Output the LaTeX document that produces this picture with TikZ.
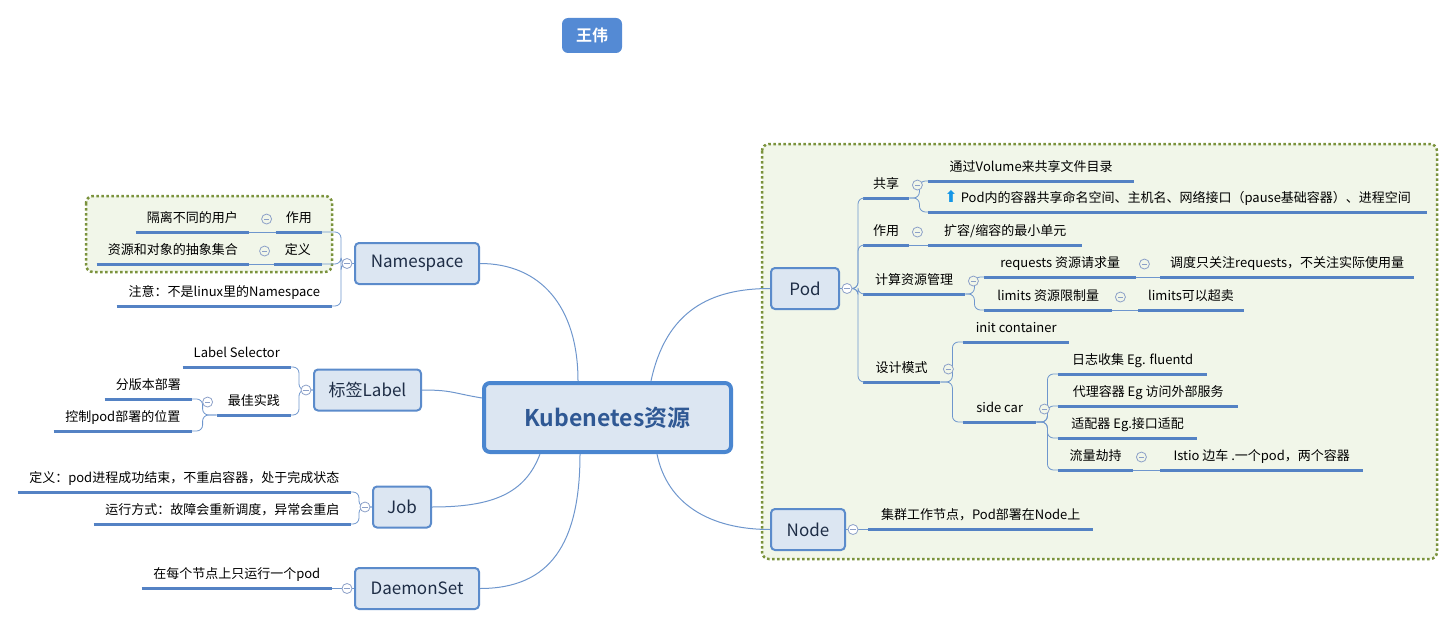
\documentclass[tikz,border=0pt]{standalone}
\usepackage{fontspec}
\setmainfont{Noto Sans CJK SC}[BoldFont={Noto Sans CJK SC Bold}]
\newfontfamily\symfont{DejaVu Sans}
\definecolor{topicfill}{RGB}{220,230,242}
\definecolor{topicline}{RGB}{91,139,203}
\definecolor{topictext}{RGB}{30,45,70}
\definecolor{rootline}{RGB}{74,134,208}
\definecolor{roottext}{RGB}{47,88,148}
\definecolor{titlefill}{RGB}{84,138,212}
\definecolor{ulinec}{RGB}{84,130,196}
\definecolor{branchc}{RGB}{110,150,205}
\definecolor{foldc}{RGB}{140,160,200}
\definecolor{areafill}{RGB}{241,246,233}
\definecolor{arealine}{RGB}{122,146,60}
\definecolor{iconc}{RGB}{20,150,230}
\tikzset{
  root/.style={draw=rootline, line width=4pt, fill=topicfill, rounded corners=6pt,
    minimum width=247pt, minimum height=69pt, text=roottext,
    font=\fontsize{23}{26}\selectfont\bfseries},
  title/.style={fill=titlefill, rounded corners=6pt, minimum width=60pt, minimum height=35pt,
    text=white, font=\fontsize{16}{18}\selectfont\bfseries},
  topic/.style={draw=topicline, line width=2pt, fill=topicfill, rounded corners=4pt,
    minimum height=41pt, text=topictext, font=\fontsize{17}{20}\selectfont},
  sub/.style={inner xsep=10pt, inner ysep=6pt, text height=10pt, text depth=3.5pt,
    font=\fontsize{13}{15}\selectfont},
  subl/.style={sub, anchor=south east},
  subr/.style={sub, anchor=south west},
  uline/.style={ulinec, line width=3pt},
  branch/.style={branchc, line width=0.8pt, rounded corners=6pt},
  link/.style={branchc, line width=1pt},
  fold/.style={circle, draw=foldc, line width=0.8pt, fill=white, minimum size=10pt, inner sep=0pt,
    path picture={\draw[foldc, line width=0.8pt]
      ([xshift=-2.6pt]path picture bounding box.center) -- ([xshift=2.6pt]path picture bounding box.center);}},
  area/.style={draw=arealine, fill=areafill, line width=2.5pt, dash pattern=on 2.5pt off 2.5pt,
    rounded corners=7pt}
}
\begin{document}
\begin{tikzpicture}[x=1pt,y=-1pt]
  \useasboundingbox (0,0) rectangle (1453,626);
  % boundaries
  \draw[area] (86,196) rectangle (332,272);
  \draw[area] (762,144) rectangle (1437,559);

  \node[title] (author) at (592,35.5) {王伟};
  \node[root] (kube) at (607.5,417.5) {Kubenetes资源};

  % main topics
  \node[topic, minimum width=124pt] (ns) at (417,263.5) {Namespace};
  \node[topic, minimum width=107pt] (lbl) at (367.5,390) {标签Label};
  \node[topic, minimum width=58pt] (job) at (402,507) {Job};
  \node[topic, minimum width=124pt] (ds) at (417,588.5) {DaemonSet};
  \node[topic, minimum width=68pt] (pod) at (805,288.5) {Pod};
  \node[topic, minimum width=74pt] (knode) at (808,529.5) {Node};

  % left side
  \node[subl, minimum width=46pt] (nsuse) at (322,232) {作用};
  \node[subl, minimum width=113pt] (nsiso) at (249,232) {隔离不同的用户};
  \node[subl, minimum width=48pt] (nsdef) at (322,264) {定义};
  \node[subl, minimum width=152pt] (nsabs) at (249,264) {资源和对象的抽象集合};
  \node[subl, minimum width=215pt] (nsnote) at (332,306) {注意：不是linux里的Namespace};
  \node[subl, minimum width=108pt] (lbsel) at (291,367) {Label Selector};
  \node[subl, minimum width=74pt] (lbbest) at (291,415) {最佳实践};
  \node[subl, minimum width=87pt] (lbver) at (192,399) {分版本部署};
  \node[subl, minimum width=138pt] (lbpos) at (192,431) {控制pod部署的位置};
  \node[subl, minimum width=333pt] (jobdef) at (351,492) {定义：pod进程成功结束，不重启容器，处于完成状态};
  \node[subl, minimum width=257pt] (jobrun) at (351,524) {运行方式：故障会重新调度，异常会重启};
  \node[subl, minimum width=190pt] (dsone) at (332,588.5) {在每个节点上只运行一个pod};

  % right side
  \node[subr, minimum width=45pt] (pshare) at (863,198) {共享};
  \node[subr, minimum width=206pt] (pvol) at (928,181) {通过Volume来共享文件目录};
  \node[subr, minimum width=499pt] (pns) at (928,212)
    {{\symfont\fontsize{16}{16}\selectfont\textcolor{iconc}{⬆}} Pod内的容器共享命名空间、主机名、网络接口（pause基础容器）、进程空间};
  \node[subr, minimum width=45pt] (puse) at (863,245) {作用};
  \node[subr, minimum width=154pt] (pscale) at (928,245) {扩容/缩容的最小单元};
  \node[subr, minimum width=102pt] (pres) at (863,294) {计算资源管理};
  \node[subr, minimum width=152pt] (preq) at (984,277) {requests 资源请求量};
  \node[subr, minimum width=252pt] (preqn) at (1160,277) {调度只关注requests，不关注实际使用量};
  \node[subr, minimum width=128pt] (plim) at (984,310) {limits 资源限制量};
  \node[subr, minimum width=104pt] (plimn) at (1138,310) {limits可以超卖};
  \node[subr, minimum width=77pt] (pdesign) at (863,382) {设计模式};
  \node[subr, minimum width=106pt] (pinit) at (963,342) {init container};
  \node[subr, minimum width=73pt] (pside) at (963,422) {side car};
  \node[subr, minimum width=149pt] (plog) at (1058,374) {日志收集 Eg. fluentd};
  \node[subr, minimum width=180pt] (pproxy) at (1058,406) {代理容器 Eg 访问外部服务};
  \node[subr, minimum width=139pt] (padapt) at (1058,438) {适配器 Eg.接口适配};
  \node[subr, minimum width=75pt] (ptraffic) at (1058,470) {流量劫持};
  \node[subr, minimum width=203pt] (pistio) at (1160,470) {Istio 边车 .一个pod，两个容器};
  \node[subr, minimum width=225pt] (nodework) at (868,529.5) {集群工作节点，Pod部署在Node上};

  % underlines
  \foreach \n in {nsuse,nsiso,nsdef,nsabs,nsnote,lbsel,lbbest,lbver,lbpos,jobdef,jobrun,dsone,
      pshare,pvol,pns,puse,pscale,pres,preq,preqn,plim,plimn,pdesign,pinit,pside,
      plog,pproxy,padapt,ptraffic,pistio,nodework}
    \draw[uline] (\n.south west) -- (\n.south east);

  % root to topics
  \draw[link] ([xshift=-29.5pt]kube.north) .. controls +(0,-75) and +(60,0) .. (ns.east);
  \draw[link] ([yshift=19.5pt]kube.west) .. controls +(-30,-5) and +(30,0) .. (lbl.east);
  \draw[link] ([xshift=-67.5pt]kube.south) .. controls +(-15,40) and +(60,0) .. (job.east);
  \draw[link] ([xshift=-27.5pt]kube.south) .. controls +(0,90) and +(70,0) .. (ds.east);
  \draw[link] ([xshift=43.5pt]kube.north) .. controls +(15,-70) and +(-60,0) .. (pod.west);
  \draw[link] ([xshift=49.5pt]kube.south) .. controls +(10,50) and +(-60,0) .. (knode.west);

  % branches
  \foreach \c in {nsuse,nsdef,nsnote}
    \draw[branch] (ns.west) -- ++(-13,0) |- (\c.south east);
  \draw[branch] (nsuse.south west) -- (nsiso.south east);
  \draw[branch] (nsdef.south west) -- (nsabs.south east);
  \foreach \c in {lbsel,lbbest}
    \draw[branch] (lbl.west) -- ++(-14,0) |- (\c.south east);
  \foreach \c in {lbver,lbpos}
    \draw[branch] (lbbest.south west) -- ++(-14,0) |- (\c.south east);
  \foreach \c in {jobdef,jobrun}
    \draw[branch] (job.west) -- ++(-13,0) |- (\c.south east);
  \draw[branch] (ds.west) -- (dsone.south east);
  \foreach \c in {pshare,puse,pres,pdesign}
    \draw[branch] (pod.east) -- ++(18,0) |- (\c.south west);
  \foreach \c in {pvol,pns}
    \draw[branch] (pshare.south east) -- ++(10,0) |- (\c.south west);
  \draw[branch] (puse.south east) -- (pscale.south west);
  \foreach \c in {preq,plim}
    \draw[branch] (pres.south east) -- ++(9,0) |- (\c.south west);
  \draw[branch] (preq.south east) -- (preqn.south west);
  \draw[branch] (plim.south east) -- (plimn.south west);
  \foreach \c in {pinit,pside}
    \draw[branch] (pdesign.south east) -- ++(12,0) |- (\c.south west);
  \foreach \c in {plog,pproxy,padapt,ptraffic}
    \draw[branch] (pside.south east) -- ++(11,0) |- (\c.south west);
  \draw[branch] (ptraffic.south east) -- (pistio.south west);
  \draw[branch] (knode.east) -- (nodework.south west);

  % folds
  \node[fold] (nsfold) at ([xshift=-7pt]ns.west) {};
  \node[fold] (lblfold) at ([xshift=-7pt]lbl.west) {};
  \node[fold] (jobfold) at ([xshift=-7pt]job.west) {};
  \node[fold] (dsfold) at ([xshift=-7pt]ds.west) {};
  \node[fold] (podfold) at ([xshift=7pt]pod.east) {};
  \node[fold] (knodefold) at ([xshift=7pt]knode.east) {};
  \node[fold, fill=areafill] (nsusefold) at ([xshift=-9pt]nsuse.west) {};
  \node[fold, fill=areafill] (nsdeffold) at ([xshift=-9pt]nsdef.west) {};
  \node[fold] (lbbestfold) at ([xshift=-9pt]lbbest.west) {};
  \foreach \n in {pshare,puse,pres,preq,plim,pdesign,pside,ptraffic}
    \node[fold, fill=areafill] (\n fold) at ([xshift=8pt]\n.east) {};
\end{tikzpicture}
\end{document}
